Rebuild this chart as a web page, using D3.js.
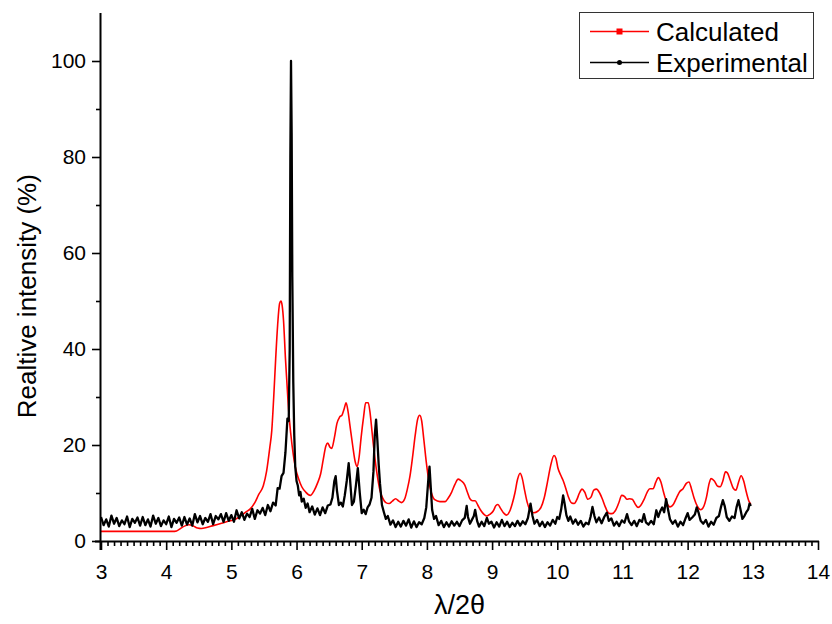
<!DOCTYPE html>
<html>
<head>
<meta charset="utf-8">
<script src="https://cdn.jsdelivr.net/npm/d3@7"></script>
<style>
  html, body { margin: 0; padding: 0; background: #fff; }
  svg { display: block; }
  text { font-family: "Liberation Sans", Arial, sans-serif; fill: #000; }
</style>
</head>
<body>
<svg id="chart" width="832" height="624"></svg>
<script>
// ---- data ----
const seriesNames = ["Calculated", "Experimental"];
const xTickValues = [3,4,5,6,7,8,9,10,11,12,13,14];
const yTickValues = [0,20,40,60,80,100];

const calcX = [3.00,4.10,4.16,4.22,4.28,4.35,4.42,4.48,4.54,4.62,4.72,4.85,4.95,5.06,5.15,5.22,5.29,5.36,5.42,5.49,5.54,5.59,5.62,5.65,5.68,5.71,5.74,5.76,5.78,5.80,5.83,5.85,5.88,5.91,5.95,5.98,6.03,6.08,6.14,6.21,6.27,6.32,6.37,6.41,6.45,6.48,6.51,6.54,6.58,6.62,6.66,6.70,6.73,6.76,6.79,6.82,6.86,6.90,6.93,6.96,6.99,7.03,7.06,7.10,7.13,7.16,7.20,7.24,7.28,7.32,7.37,7.42,7.47,7.52,7.57,7.61,7.66,7.70,7.74,7.78,7.82,7.86,7.89,7.92,7.95,7.99,8.03,8.07,8.12,8.20,8.28,8.33,8.38,8.43,8.48,8.53,8.58,8.62,8.66,8.70,8.74,8.78,8.83,8.88,8.92,8.97,9.02,9.06,9.09,9.13,9.18,9.22,9.27,9.31,9.35,9.39,9.43,9.46,9.50,9.54,9.59,9.64,9.70,9.75,9.80,9.85,9.90,9.95,9.98,10.01,10.05,10.09,10.13,10.17,10.22,10.26,10.30,10.34,10.38,10.42,10.47,10.52,10.56,10.60,10.65,10.69,10.74,10.79,10.84,10.89,10.94,10.99,11.03,11.07,11.11,11.15,11.20,11.24,11.28,11.33,11.38,11.42,11.47,11.51,11.55,11.59,11.63,11.68,11.73,11.78,11.83,11.88,11.93,11.98,12.02,12.06,12.10,12.15,12.20,12.25,12.29,12.33,12.36,12.41,12.46,12.50,12.54,12.58,12.61,12.65,12.70,12.74,12.78,12.82,12.86,12.90,12.94,12.97];
const calcY = [2.0,2.0,2.1,2.6,3.1,3.4,3.1,2.7,2.6,2.8,3.2,3.7,4.1,4.5,5.3,6.0,6.7,8.0,9.7,11.5,14.5,19.5,23,30,38,45,49.5,50,49,46,38,33.5,27,22.5,18,15.5,13,11.3,10.2,9.5,10.5,12,14,17,19.8,20.4,19.6,19.3,21.5,24.5,25.8,26.3,27.5,28.8,27,24,20,16.5,15.5,17.5,21.5,26,28.8,28.8,26.5,22.5,17.5,13.5,10.5,9.0,8.0,7.8,8.3,8.8,8.3,8.0,8.8,10.8,13.5,17.5,22,25.5,26.2,25,21.5,16.5,12.5,10,8.6,8.2,8.2,9.0,10.2,11.8,12.9,12.5,11.7,10.2,8.8,8.4,8.4,7.5,6.3,5.5,5.2,5.6,6.3,7.4,7.6,6.8,5.8,5.4,6.2,7.8,10,12.8,14.1,13.2,10.5,8.0,6.3,5.9,6.2,7.0,9.0,12.3,15.8,17.8,17.2,15.2,13.8,12.6,11.0,9.2,7.9,7.8,8.6,10.0,10.8,10.2,8.7,9.2,10.6,10.8,10.0,8.8,7.0,5.8,5.7,6.3,7.8,9.5,9.3,8.7,8.8,8.7,7.6,7.0,7.4,8.6,10.2,10.9,10.9,12.2,13.2,12.3,10.2,8.0,7.1,7.6,9.0,10.3,10.9,12.0,12.3,10.8,8.9,7.2,6.5,7.3,9.2,12.0,13.0,12.5,11.4,11.3,12.5,14.4,14.2,12.8,11.0,10.6,12.2,13.6,12.5,10.2,8.3,7.6];

const expX = [3.00,3.04,3.08,3.12,3.16,3.20,3.24,3.28,3.32,3.36,3.40,3.44,3.48,3.52,3.56,3.60,3.64,3.68,3.72,3.76,3.80,3.84,3.88,3.92,3.96,4.00,4.04,4.08,4.12,4.16,4.20,4.24,4.28,4.32,4.36,4.40,4.44,4.48,4.52,4.56,4.60,4.64,4.68,4.72,4.76,4.80,4.84,4.88,4.92,4.96,5.00,5.04,5.08,5.12,5.16,5.20,5.24,5.28,5.32,5.36,5.40,5.44,5.48,5.52,5.56,5.60,5.64,5.68,5.71,5.74,5.77,5.80,5.83,5.86,5.88,5.895,5.905,5.915,5.925,5.935,5.95,5.965,5.98,6.00,6.02,6.04,6.06,6.08,6.11,6.14,6.17,6.20,6.24,6.28,6.32,6.36,6.40,6.44,6.48,6.52,6.55,6.58,6.60,6.62,6.65,6.68,6.71,6.74,6.77,6.80,6.82,6.85,6.88,6.91,6.94,6.97,7.00,7.03,7.06,7.09,7.12,7.15,7.18,7.20,7.22,7.24,7.26,7.28,7.31,7.34,7.37,7.40,7.44,7.48,7.52,7.56,7.60,7.64,7.68,7.72,7.76,7.80,7.84,7.88,7.92,7.96,7.99,8.02,8.04,8.06,8.08,8.11,8.14,8.18,8.22,8.26,8.30,8.34,8.38,8.42,8.46,8.50,8.54,8.58,8.61,8.63,8.66,8.69,8.72,8.74,8.77,8.80,8.84,8.88,8.92,8.95,8.99,9.03,9.07,9.11,9.15,9.19,9.23,9.27,9.31,9.35,9.39,9.43,9.47,9.51,9.55,9.59,9.62,9.65,9.69,9.73,9.77,9.81,9.85,9.89,9.93,9.97,10.00,10.03,10.06,10.09,10.11,10.14,10.17,10.20,10.24,10.28,10.32,10.36,10.40,10.44,10.48,10.51,10.54,10.57,10.60,10.64,10.68,10.72,10.76,10.79,10.83,10.87,10.91,10.95,10.99,11.03,11.07,11.10,11.14,11.18,11.22,11.26,11.30,11.33,11.36,11.40,11.44,11.48,11.52,11.55,11.58,11.61,11.64,11.67,11.70,11.73,11.77,11.81,11.85,11.89,11.93,11.97,12.00,12.03,12.07,12.11,12.14,12.17,12.20,12.24,12.28,12.32,12.36,12.40,12.44,12.48,12.51,12.54,12.57,12.60,12.64,12.68,12.72,12.75,12.78,12.81,12.84,12.87,12.90,12.93,12.95,12.97];
const expY = [5.0,3.3,4.5,3.0,5.3,3.6,4.8,3.1,4.3,3.5,5.1,2.9,4.6,3.8,4.9,3.2,5.0,3.3,4.5,3.0,5.3,3.6,4.8,3.1,4.3,3.5,5.1,2.9,4.6,3.8,4.9,3.2,5.0,3.4,4.7,3.2,5.6,3.9,5.2,3.5,4.8,4.0,5.6,3.5,5.2,4.5,5.6,4.0,5.8,4.2,5.4,4.0,6.4,4.7,6.0,4.4,5.7,5.0,6.7,4.6,6.4,5.7,6.9,5.4,7.5,6.2,8.0,7.4,11.0,10.9,13.5,14.2,18.5,25.5,25,40,80,100,85,55,33,22,15.5,12.5,11.5,9.5,10.2,8.2,8.8,6.9,7.8,6.0,7.2,5.5,6.8,5.4,7.0,5.8,7.4,7.6,9.0,12.5,13.5,10.5,7.5,8.0,7.2,9.5,12.5,16.2,13.0,7.5,8.2,11.5,15.2,10.0,5.8,6.5,5.6,7.0,7.6,9.0,14.5,22,25.3,21,16,12,7.5,6.0,4.6,5.2,3.4,4.3,2.9,4.0,3.0,4.2,3.2,4.5,2.8,4.1,2.9,3.9,3.5,4.8,7.0,12.5,15.5,11,6.5,4.6,5.2,3.3,4.2,2.9,3.9,3.0,4.1,3.2,4.0,3.1,4.3,4.8,7.3,5.0,3.6,4.4,5.2,6.5,4.2,3.0,4.0,3.1,4.8,3.6,4.0,2.8,3.9,3.0,4.4,3.1,4.0,2.9,3.8,3.1,4.2,3.2,4.1,3.5,4.8,7.8,5.2,3.6,4.4,3.1,4.0,2.9,3.9,3.2,4.4,3.6,5.0,4.6,6.6,9.5,8.0,5.4,4.2,5.1,3.6,4.5,3.4,4.2,3.0,3.8,3.5,5.0,7.1,5.2,3.9,4.9,3.7,5.0,5.9,4.2,4.7,3.2,4.0,3.1,4.3,3.8,5.6,4.1,3.3,4.2,3.1,4.4,4.0,5.6,3.9,3.4,4.2,3.5,6.4,5.0,6.2,7.0,6.0,8.7,6.5,4.5,3.6,4.3,3.0,4.0,3.3,4.8,5.8,4.4,4.9,5.5,7.0,5.8,4.2,3.6,4.4,3.0,4.0,3.4,4.8,5.2,7.0,8.5,7.2,5.0,4.2,5.1,4.8,7.0,8.5,6.6,4.6,5.2,6.0,6.6,7.8,7.3];

const calcData = calcX.map((v, i) => ({x: v, y: calcY[i]}));
const expData = expX.map((v, i) => ({x: v, y: expY[i]}));

// ---- layout ----
const svg = d3.select("#chart");
const mLeft = 101, mRight = 818, mTop = 13, mBottom = 541;

const xS = d3.scaleLinear().domain([3, 14]).range([mLeft, mRight]);
const yS = d3.scaleLinear().domain([0, 110]).range([mBottom, mTop]);

// plot lines
svg.append("path").datum(calcData)
  .attr("d", d3.line().x(d => xS(d.x)).y(d => yS(d.y)).curve(d3.curveMonotoneX))
  .attr("fill", "none").attr("stroke", "#ff0000").attr("stroke-width", 1.6);

svg.append("path").datum(expData)
  .attr("d", d3.line().x(d => xS(d.x)).y(d => yS(d.y)))
  .attr("fill", "none").attr("stroke", "#000").attr("stroke-width", 2.3)
  .attr("stroke-linejoin", "round");

// ---- axes ----
const minorX = d3.range(30, 141).map(v => v / 10).filter(v => Math.abs(v - Math.round(v)) > 1e-6);
const minorY = [10, 30, 50, 70, 90];

const gx = svg.append("g").attr("transform", `translate(0,${mBottom})`);
gx.call(d3.axisBottom(xS).tickValues(minorX).tickSize(5).tickFormat(""));
gx.select(".domain").remove();
const gxMaj = svg.append("g").attr("transform", `translate(0,${mBottom})`)
  .call(d3.axisBottom(xS).tickValues(xTickValues).tickSize(9).tickPadding(14).tickFormat(d3.format("d")));
gxMaj.select(".domain").attr("d", `M${mLeft - 6},0.5H${mRight + 1}`);
gxMaj.selectAll("text").attr("font-size", 21);

const gy = svg.append("g").attr("transform", `translate(${mLeft},0)`);
gy.call(d3.axisLeft(yS).tickValues(minorY).tickSize(5).tickFormat(""));
gy.select(".domain").remove();
const gyMaj = svg.append("g").attr("transform", `translate(${mLeft},0)`)
  .call(d3.axisLeft(yS).tickValues(yTickValues).tickSize(9).tickPadding(6).tickFormat(d3.format("d")));
gyMaj.select(".domain").attr("d", `M-0.5,${mTop}V${mBottom + 9}`);
gyMaj.selectAll("text").attr("font-size", 21);

svg.selectAll(".domain").attr("stroke-width", 2);
svg.selectAll(".tick line").attr("stroke-width", 1.6);
svg.selectAll(".tick text").attr("font-family", "'Liberation Sans', Arial, sans-serif");

// axis titles
svg.append("text")
  .attr("x", xS(8.5)).attr("y", 614)
  .attr("text-anchor", "middle").attr("font-size", 27)
  .text("λ/2θ");

svg.append("text")
  .attr("transform", `translate(36,${yS(51)}) rotate(-90)`)
  .attr("text-anchor", "middle").attr("font-size", 26)
  .text("Realtive intensity (%)");

// ---- legend ----
const lg = svg.append("g");
lg.append("rect").attr("x", 579.5).attr("y", 12.5).attr("width", 234).attr("height", 66)
  .attr("fill", "#fff").attr("stroke", "#333").attr("stroke-width", 1);
const legendColors = ["#ff0000", "#000"];
seriesNames.forEach((name, i) => {
  const ly = 31.5 + i * 31;
  lg.append("line").attr("x1", 590).attr("x2", 649).attr("y1", ly).attr("y2", ly)
    .attr("stroke", legendColors[i]).attr("stroke-width", 1.5);
  if (i === 0) {
    lg.append("rect").attr("x", 616.5).attr("y", ly - 3).attr("width", 6).attr("height", 6)
      .attr("fill", legendColors[i]);
  } else {
    lg.append("circle").attr("cx", 619.5).attr("cy", ly).attr("r", 2.5).attr("fill", legendColors[i]);
  }
  lg.append("text").attr("x", 656).attr("y", ly + 9).attr("font-size", 26).text(name);
});
</script>
</body>
</html>
